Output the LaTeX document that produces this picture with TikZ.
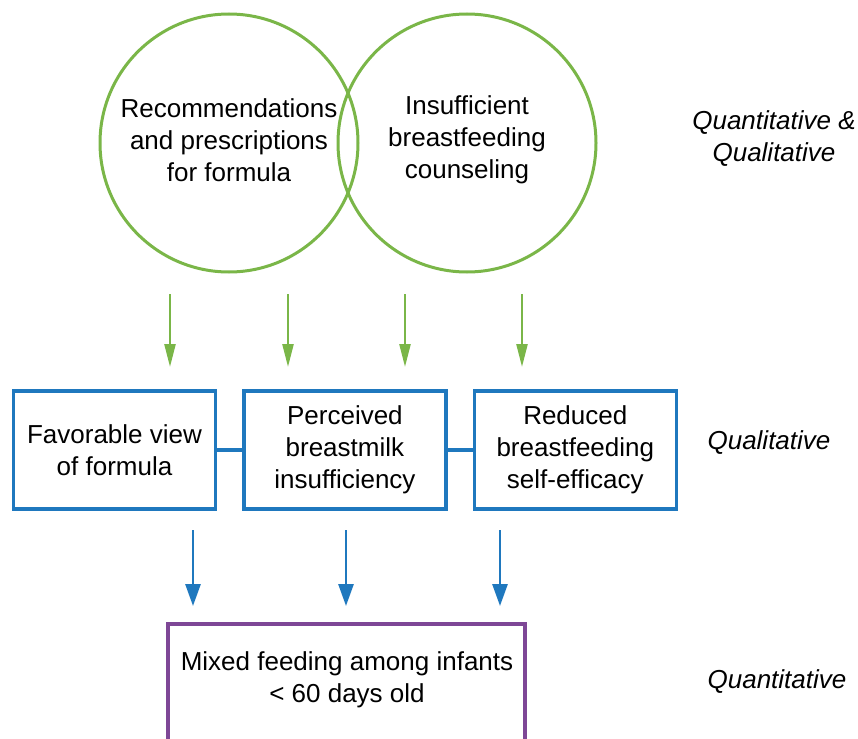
\documentclass[tikz,border=0pt]{standalone}
\usepackage{fontspec}
\setmainfont{Liberation Sans}
\usetikzlibrary{arrows.meta, positioning}
\definecolor{leafgreen}{HTML}{7AB648}
\definecolor{boxblue}{HTML}{1F78BE}
\definecolor{plum}{HTML}{7E4796}

\begin{document}
\begin{tikzpicture}[x=0.5pt, y=-0.5pt,
    txt/.style={align=center, font=\fontsize{13}{16}\selectfont},
    factor/.style={txt, circle, draw=leafgreen, line width=1.5pt, minimum size=129pt},
    mediator/.style={txt, draw=boxblue, line width=1.7pt, minimum width=101pt, minimum height=59pt, inner sep=0pt},
    level/.style={align=center, font=\fontsize{13}{16}\selectfont\itshape},
    greenarrow/.style={leafgreen, line width=1.2pt, -{Triangle[length=11.5pt, width=5.5pt]}},
    bluearrow/.style={boxblue, line width=1.4pt, -{Triangle[length=11pt, width=7.5pt]}}]
\useasboundingbox (0,0) rectangle (858,739);
\clip (0,0) rectangle (858,739);

% Circles for the provider factors
\node[factor] (recom) at (229,143) {};
\node[factor] (counsel) at (467,143) {};
\node[txt] (recomtxt) at (229,140) {Recommendations\\and prescriptions\\for formula};
\node[txt] (counseltxt) at (467,140) {Insufficient\\breastfeeding\\counseling};

% Green arrows
\foreach \x [count=\i] in {170,288,405,522} {
    \coordinate (gs\i) at (\x,294);
    \coordinate (ge\i) at (\x,367);
    \draw[greenarrow] (gs\i) -- (ge\i);
}

% Maternal factors
\node[mediator] (favor) at (114.5,450) {Favorable view\\of formula};
\node[mediator, right=12.5pt of favor] (perceive) {Perceived\\breastmilk\\insufficiency};
\node[mediator, right=12.5pt of perceive] (efficacy) {Reduced\\breastfeeding\\self-efficacy};
\draw[boxblue, line width=1.7pt] (favor.east) -- (perceive.west);
\draw[boxblue, line width=1.7pt] (perceive.east) -- (efficacy.west);

% Blue arrows
\foreach \x [count=\i] in {193,346,500} {
    \coordinate (bs\i) at (\x,530);
    \coordinate (be\i) at (\x,606);
    \draw[bluearrow] (bs\i) -- (be\i);
}

% Outcome
\draw[plum, line width=1.9pt] (168,624) rectangle (525,800);
\node[txt] (outcome) at (347,680) {Mixed feeding among infants\\< 60 days old};

% Level labels
\node[level] (both) at (774,139) {Quantitative \&\\Qualitative};
\node[level] (qual) at (769,443) {Qualitative};
\node[level] (quant) at (777,682) {Quantitative};
\end{tikzpicture}
\end{document}
